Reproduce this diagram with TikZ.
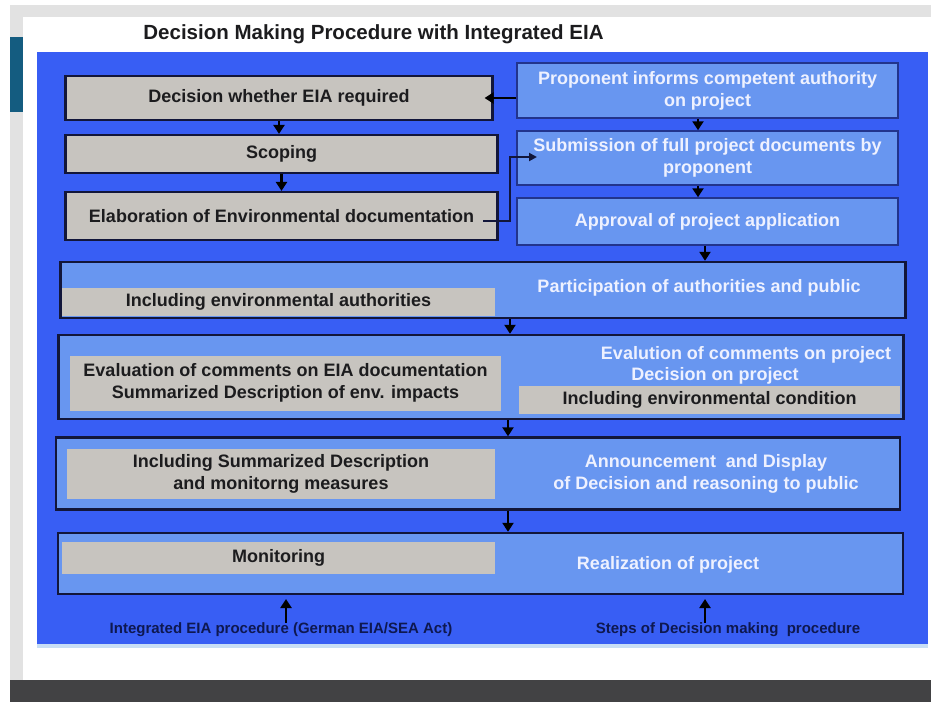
\documentclass[tikz,border=0pt]{standalone}
\usepackage{fontspec}
\setmainfont{Liberation Sans}
\usetikzlibrary{arrows.meta,calc}

\definecolor{panelblue}{RGB}{56,94,244}
\definecolor{boxblue}{RGB}{104,150,240}
\definecolor{boxgray}{RGB}{199,196,191}
\definecolor{edgenavy}{RGB}{18,22,58}
\definecolor{lightedge}{RGB}{34,52,140}
\definecolor{framegray}{RGB}{226,226,226}
\definecolor{sidebar}{RGB}{20,92,128}
\definecolor{footband}{RGB}{66,66,68}
\definecolor{inktext}{RGB}{28,28,30}
\definecolor{paletext}{RGB}{238,241,255}
\definecolor{footink}{RGB}{14,24,80}
\definecolor{glow}{RGB}{200,222,245}

\begin{document}
\begin{tikzpicture}[x=1pt,y=-1pt,
  every node/.style={font=\bfseries\fontsize{18}{22}\selectfont, inner sep=0pt, align=center},
  graybox/.style={draw=edgenavy, line width=2.2pt, fill=boxgray, text=inktext},
  bluebox/.style={draw=lightedge, line width=1.5pt, fill=boxblue, text=paletext},
  band/.style={draw=edgenavy, line width=2.4pt, fill=boxblue},
  strip/.style={fill=boxgray, text=inktext},
  whitetext/.style={text=paletext},
  flow/.style={line width=2.6pt, draw=black, -{Triangle[length=9pt,width=11pt]}},
  thinflow/.style={line width=2pt, draw=edgenavy, -{Triangle[length=8pt,width=8pt]}},
  footlabel/.style={font=\bfseries\fontsize{15}{18}\selectfont, text=footink},
  titletext/.style={font=\bfseries\fontsize{20.5}{24}\selectfont, text=inktext},
]
\useasboundingbox (0,0) rectangle (931,702);

% slide background and frame
\fill[white] (0,0) rectangle (931,702);
\fill[framegray] (10,5) rectangle (931,17);
\fill[framegray] (10,5) rectangle (23,680);
\fill[sidebar] (10,37) rectangle (23,112);
\fill[footband] (10,680) rectangle (931,702);

% title
\node[titletext] (title) at (373.5,34) {Decision Making Procedure with Integrated EIA};

% blue panel
\fill[glow] (37,643) rectangle (928,648);
\fill[panelblue] (37,52) rectangle (928,644);

% EIA steps (left column)
\node[graybox, minimum width=427pt, minimum height=44pt] (L1) at (279,98) {Decision whether EIA required};
\node[graybox, minimum width=432pt, minimum height=38pt] (L2) at (281.5,154) {Scoping};
\node[graybox, minimum width=432pt, minimum height=48pt] (L3) at (281.5,216) {Elaboration of Environmental documentation};

% decision steps (right column)
\node[bluebox, minimum width=381pt, minimum height=55pt] (R1) at (707.5,90.5) {Proponent informs competent authority\\on project};
\node[bluebox, minimum width=381pt, minimum height=54pt] (R2) at (707.5,158) {Submission of full project documents by\\proponent};
\node[bluebox, minimum width=381pt, minimum height=47pt] (R3) at (707.5,221.5) {Approval of project application};

% combined stages
\node[band, minimum width=845pt, minimum height=56pt] (B1) at (483,290) {};
\node[band, minimum width=845pt, minimum height=84pt] (B2) at (481,377) {};
\node[band, minimum width=844pt, minimum height=72pt] (B3) at (478,473.5) {};
\node[band, minimum width=845pt, minimum height=61pt] (B4) at (480.5,563.5) {};

% stage 1
\node[strip, minimum width=433pt, minimum height=28pt] (S1) at (278.5,302) {Including environmental authorities};
\node[whitetext] (T1) at (699,288) {Participation of authorities and public};

% stage 2
\node[strip, minimum width=431pt, minimum height=55pt] (S2) at (285.5,383) {Evaluation of comments on EIA documentation\\Summarized Description of env. impacts};
\node[whitetext] (T2a) at (746,355) {Evalution of comments on project};
\node[whitetext] (T2b) at (715,376) {Decision on project};
\node[strip, minimum width=381pt, minimum height=28pt] (S2r) at (709.5,400) {Including environmental condition};

% stage 3
\node[strip, minimum width=428pt, minimum height=50pt] (S3) at (281,473.5) {Including Summarized Description\\and monitorng measures};
\node[whitetext] (T3) at (706,474) {Announcement\ \ and Display\\of Decision and reasoning to public};

% stage 4
\node[strip, minimum width=433pt, minimum height=32pt] (S4) at (278.5,558) {Monitoring};
\node[whitetext] (T4) at (668,565) {Realization of project};

% footer captions
\node[footlabel] (F1) at (281,630) {Integrated EIA procedure (German EIA/SEA Act)};
\node[footlabel] (F2) at (728,630) {Steps of Decision making\ \ procedure};
\coordinate (U1) at (286,599);
\coordinate (U2) at (705,599);

% connectors
\coordinate (spine) at (510,0);
\draw[flow, shorten >=-9pt] (L1.east -| R1.west) -- (L1.east);
\draw[flow] (L1.south) -- (L1.south |- L2.north);
\draw[flow] (L2.south) -- (L2.north |- L3.north);
\draw[flow] ([xshift=-9.5pt]R1.south) -- ([xshift=-9.5pt]R2.north);
\draw[flow] ([xshift=-9.5pt]R2.south) -- ([xshift=-9.5pt]R3.north);
\draw[flow] ([xshift=-2.5pt]R3.south) -- ([xshift=-2.5pt]R3.south |- B1.north);
\draw[flow] (spine |- B1.south) -- (spine |- B2.north);
\draw[flow] ([xshift=-2pt]spine |- B2.south) -- ([xshift=-2pt]spine |- B3.north);
\draw[flow] ([xshift=-2pt]spine |- B3.south) -- ([xshift=-2pt]spine |- B4.north);
\draw[flow] (F1.north -| U1) -- (U1);
\draw[flow] (F2.north -| U2) -- (U2);

% documentation handed over to the project submission
\coordinate (E0) at (483,221);
\coordinate (E1) at (537,157);
\draw[thinflow] (E0) -| ($(E0)!0.5!(E1)$) |- (E1);
\end{tikzpicture}
\end{document}
